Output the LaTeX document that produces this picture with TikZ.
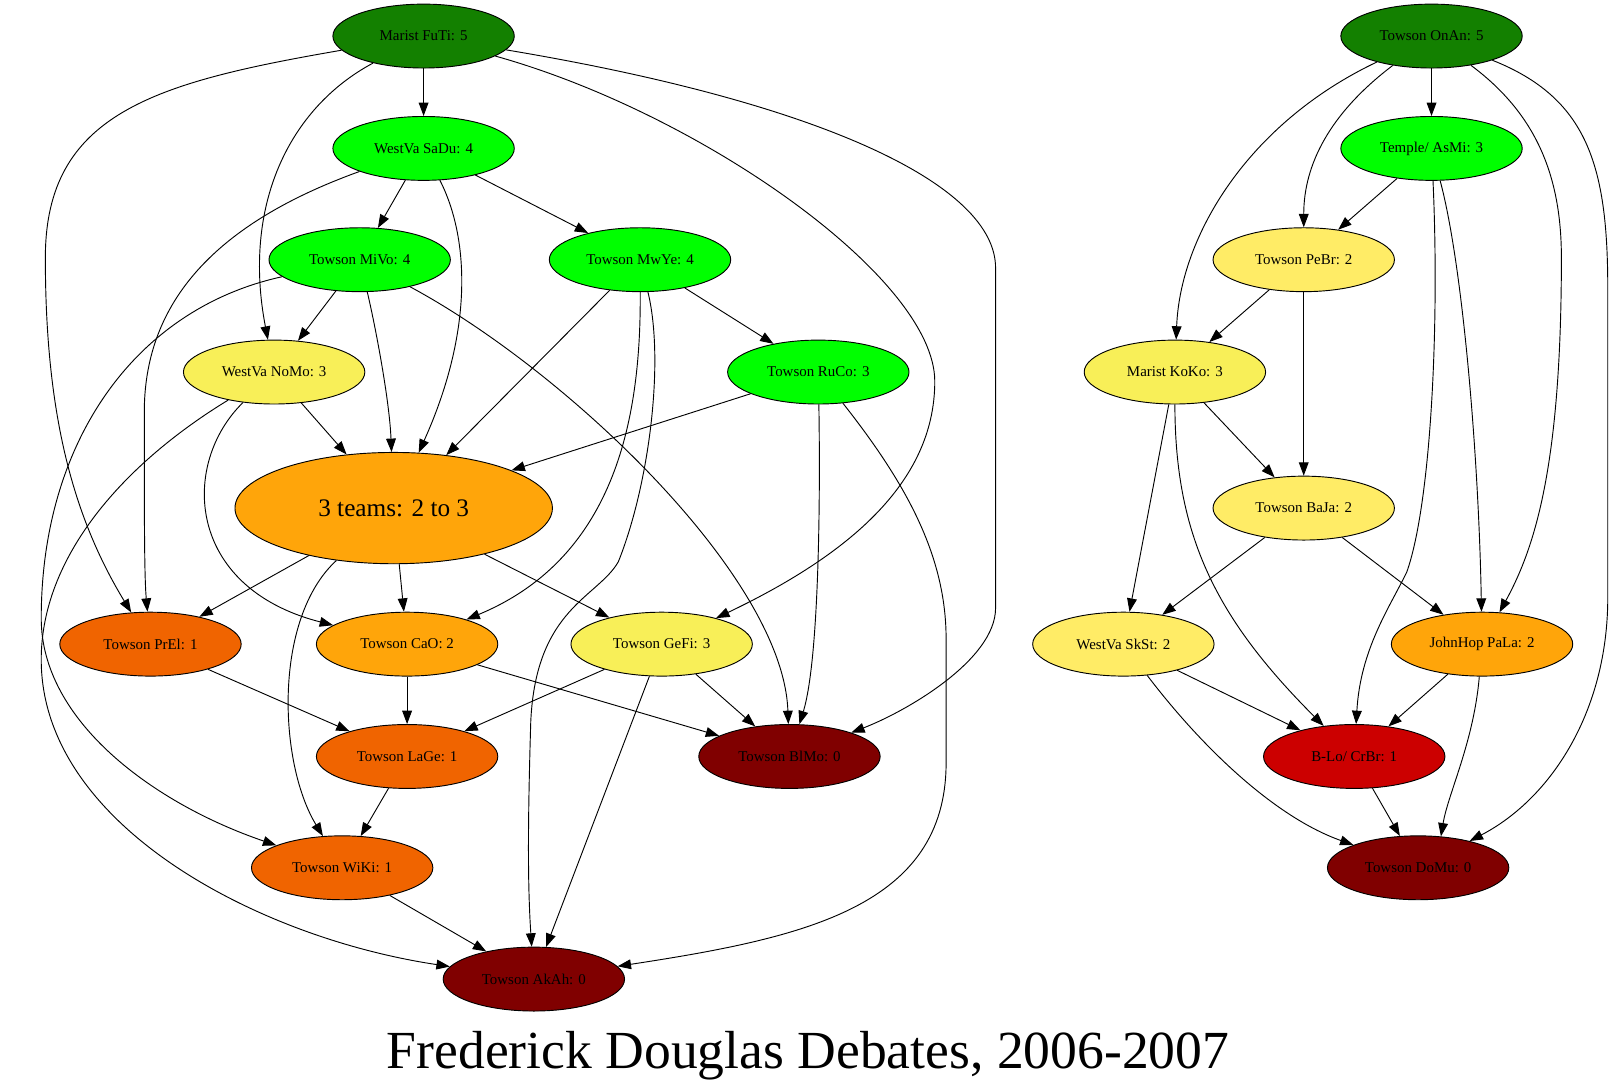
\documentclass[tikz,border=0pt]{standalone}
\usepackage{fontspec}
\setmainfont{Liberation Serif}
\usetikzlibrary{shapes.geometric, arrows.meta}

\definecolor{topgreen}{RGB}{19,128,0}
\definecolor{brightgreen}{RGB}{0,255,0}
\definecolor{midyellow}{RGB}{248,239,88}
\definecolor{paleyellow}{RGB}{255,236,102}
\definecolor{amber}{RGB}{255,165,10}
\definecolor{rust}{RGB}{240,100,0}
\definecolor{scarlet}{RGB}{204,0,0}
\definecolor{deepred}{RGB}{128,0,0}

\begin{document}
\begin{tikzpicture}[x=1pt, y=-1pt, line width=0.9pt, >={Triangle[length=13pt, width=9.5pt]}]
  \tikzstyle{team} = [draw, ellipse, minimum width=176pt, minimum height=62pt, inner sep=0pt, font=\fontsize{14.5}{17}\selectfont]
  \tikzstyle{pool} = [draw, ellipse, minimum width=308pt, minimum height=108pt, inner sep=0pt, font=\fontsize{24.5}{29}\selectfont]
  \useasboundingbox (0,0) rectangle (1568,1057);

  \node [team, fill=topgreen] (FuTi) at (411,35) {Marist FuTi: 5};
  \node [team, fill=brightgreen] (SaDu) at (411,144) {WestVa SaDu: 4};
  \node [team, fill=brightgreen] (MiVo) at (349,252) {Towson MiVo: 4};
  \node [team, fill=brightgreen] (MwYe) at (621,252) {Towson MwYe: 4};
  \node [team, fill=midyellow] (NoMo) at (266,361) {WestVa NoMo: 3};
  \node [team, fill=brightgreen] (RuCo) at (794,361) {Towson RuCo: 3};
  \node [pool, fill=amber] (three) at (382,493) {3 teams: 2 to 3};
  \node [team, fill=rust] (PrEl) at (146,625) {Towson PrEl: 1};
  \node [team, fill=amber] (CaO) at (395,625) {Towson CaO: 2};
  \node [team, fill=midyellow] (GeFi) at (642,625) {Towson GeFi: 3};
  \node [team, fill=rust] (LaGe) at (395,734) {Towson LaGe: 1};
  \node [team, fill=deepred] (BlMo) at (766,734) {Towson BlMo: 0};
  \node [team, fill=rust] (WiKi) at (332,842) {Towson WiKi: 1};
  \node [team, fill=deepred] (AkAh) at (518,950) {Towson AkAh: 0};

  \node [team, fill=topgreen] (OnAn) at (1389,35) {Towson OnAn: 5};
  \node [team, fill=brightgreen] (AsMi) at (1389,144) {Temple/ AsMi: 3};
  \node [team, fill=paleyellow] (PeBr) at (1265,252) {Towson PeBr: 2};
  \node [team, fill=midyellow] (KoKo) at (1140,361) {Marist KoKo: 3};
  \node [team, fill=paleyellow] (BaJa) at (1265,493) {Towson BaJa: 2};
  \node [team, fill=paleyellow] (SkSt) at (1090,625) {WestVa SkSt: 2};
  \node [team, fill=amber] (PaLa) at (1438,625) {JohnHop PaLa: 2};
  \node [team, fill=scarlet] (CrBr) at (1314,734) {B-Lo/ CrBr: 1};
  \node [team, fill=deepred] (DoMu) at (1376,842) {Towson DoMu: 0};

  \node [font=\fontsize{52}{60}\selectfont, anchor=base] (title) at (784,1037) {Frederick Douglas Debates, 2006-2007};

  \draw [->] (FuTi) -- (SaDu);
  \draw [->] (FuTi) .. controls (150,80) and (44,110) .. (44,250) .. controls (44,400) and (70,500) .. (PrEl);
  \draw [->] (FuTi) .. controls (280,105) and (235,200) .. (NoMo);
  \draw [->] (FuTi) .. controls (680,110) and (907,270) .. (907,370) .. controls (907,470) and (820,540) .. (GeFi);
  \draw [->] (FuTi) .. controls (800,100) and (966,180) .. (966,260) -- (966,590) .. controls (966,640) and (880,690) .. (BlMo);
  \draw [->] (SaDu) -- (MiVo);
  \draw [->] (SaDu) -- (MwYe);
  \draw [->] (SaDu) .. controls (200,220) and (140,300) .. (140,400) .. controls (140,500) and (140,560) .. (PrEl);
  \draw [->] (SaDu) .. controls (455,230) and (460,320) .. (three);
  \draw [->] (MiVo) -- (NoMo);
  \draw [->] (MiVo) .. controls (365,320) and (378,390) .. (three);
  \draw [->] (MiVo) .. controls (550,360) and (760,560) .. (BlMo);
  \draw [->] (MiVo) .. controls (130,300) and (40,430) .. (40,600) .. controls (40,700) and (150,780) .. (WiKi);
  \draw [->] (MwYe) -- (RuCo);
  \draw [->] (MwYe) -- (three);
  \draw [->] (MwYe) .. controls (622,400) and (600,540) .. (CaO);
  \draw [->] (MwYe) .. controls (645,350) and (630,470) .. (600,545) .. controls (580,580) and (520,590) .. (515,700) .. controls (512,800) and (512,860) .. (AkAh);
  \draw [->] (NoMo) -- (three);
  \draw [->] (NoMo) .. controls (175,450) and (180,570) .. (CaO);
  \draw [->] (NoMo) .. controls (120,450) and (40,540) .. (40,640) .. controls (40,800) and (250,910) .. (AkAh);
  \draw [->] (RuCo) -- (three);
  \draw [->] (RuCo) .. controls (796,480) and (795,640) .. (BlMo);
  \draw [->] (RuCo) .. controls (880,470) and (918,540) .. (918,620) -- (918,740) .. controls (918,880) and (780,910) .. (AkAh);
  \draw [->] (three) -- (PrEl);
  \draw [->] (three) -- (CaO);
  \draw [->] (three) -- (GeFi);
  \draw [->] (three) .. controls (265,600) and (270,740) .. (WiKi);
  \draw [->] (PrEl) -- (LaGe);
  \draw [->] (CaO) -- (LaGe);
  \draw [->] (CaO) -- (BlMo);
  \draw [->] (GeFi) -- (LaGe);
  \draw [->] (GeFi) -- (BlMo);
  \draw [->] (GeFi) -- (AkAh);
  \draw [->] (LaGe) -- (WiKi);
  \draw [->] (WiKi) -- (AkAh);

  \draw [->] (OnAn) -- (AsMi);
  \draw [->] (OnAn) .. controls (1210,120) and (1145,230) .. (KoKo);
  \draw [->] (OnAn) .. controls (1290,110) and (1265,160) .. (PeBr);
  \draw [->] (OnAn) .. controls (1490,110) and (1515,170) .. (1515,250) .. controls (1515,450) and (1490,530) .. (PaLa);
  \draw [->] (OnAn) .. controls (1540,95) and (1560,160) .. (1560,280) -- (1560,580) .. controls (1560,690) and (1505,775) .. (DoMu);
  \draw [->] (AsMi) -- (PeBr);
  \draw [->] (AsMi) .. controls (1397,320) and (1388,490) .. (1365,555) .. controls (1348,590) and (1320,630) .. (CrBr);
  \draw [->] (AsMi) .. controls (1420,260) and (1435,450) .. (PaLa);
  \draw [->] (PeBr) -- (KoKo);
  \draw [->] (PeBr) -- (BaJa);
  \draw [->] (KoKo) -- (BaJa);
  \draw [->] (KoKo) -- (SkSt);
  \draw [->] (KoKo) .. controls (1140,520) and (1180,600) .. (CrBr);
  \draw [->] (BaJa) -- (SkSt);
  \draw [->] (BaJa) -- (PaLa);
  \draw [->] (SkSt) -- (CrBr);
  \draw [->] (SkSt) .. controls (1170,730) and (1240,794) .. (DoMu);
  \draw [->] (PaLa) -- (CrBr);
  \draw [->] (PaLa) .. controls (1430,720) and (1405,770) .. (DoMu.54);
  \draw [->] (CrBr) -- (DoMu);
\end{tikzpicture}
\end{document}
